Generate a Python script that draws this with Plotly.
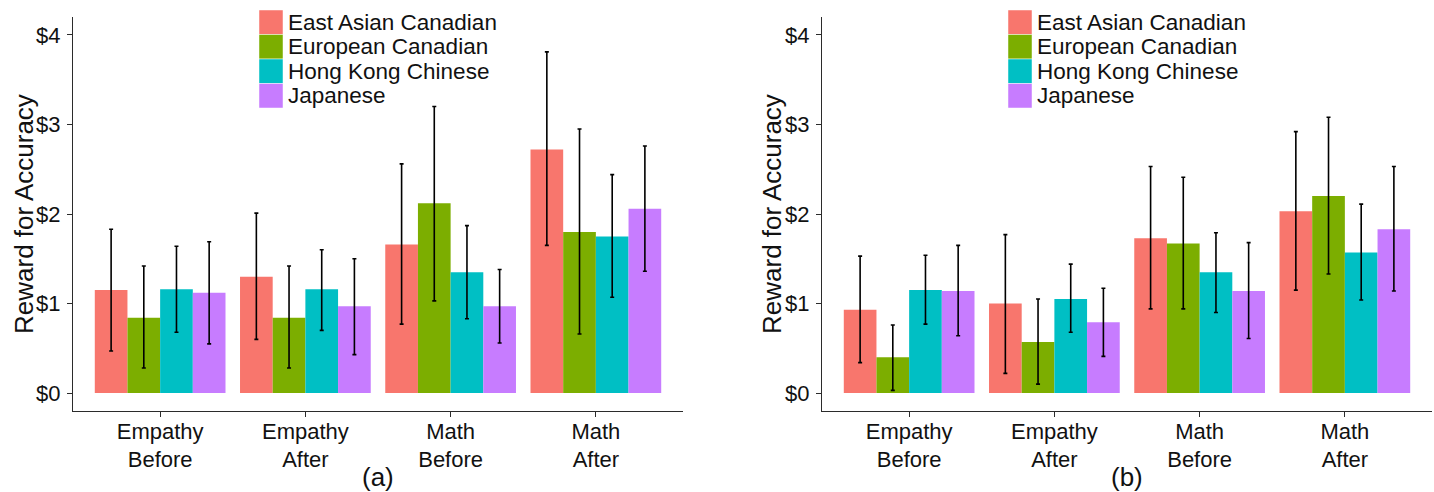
import plotly.graph_objects as go

# ---------------- data ----------------
conditions = ["Empathy Before", "Empathy After", "Math Before", "Math After"]
tick_labels = ["Empathy<br>Before", "Empathy<br>After", "Math<br>Before", "Math<br>After"]
groups = ["East Asian Canadian", "European Canadian", "Hong Kong Chinese", "Japanese"]
colors = ["#F8766D", "#7CAE00", "#00BFC4", "#C77CFF"]
y_tickvals = [0, 1, 2, 3, 4]
y_ticktext = ["$0", "$1", "$2", "$3", "$4"]
panel_labels = ["(a)", "(b)"]

# panel (a)
a_mean = {
    "East Asian Canadian": [1.15, 1.30, 1.66, 2.72],
    "European Canadian":   [0.84, 0.84, 2.12, 1.80],
    "Hong Kong Chinese":   [1.16, 1.16, 1.35, 1.75],
    "Japanese":            [1.12, 0.97, 0.97, 2.06],
}
a_upper = {
    "East Asian Canadian": [1.83, 2.01, 2.56, 3.81],
    "European Canadian":   [1.42, 1.42, 3.20, 2.95],
    "Hong Kong Chinese":   [1.64, 1.60, 1.87, 2.44],
    "Japanese":            [1.69, 1.50, 1.38, 2.76],
}
a_lower = {
    "East Asian Canadian": [0.47, 0.60, 0.77, 1.65],
    "European Canadian":   [0.28, 0.28, 1.03, 0.66],
    "Hong Kong Chinese":   [0.68, 0.70, 0.83, 1.07],
    "Japanese":            [0.55, 0.43, 0.56, 1.36],
}

# panel (b)
b_mean = {
    "East Asian Canadian": [0.93, 1.00, 1.73, 2.03],
    "European Canadian":   [0.40, 0.57, 1.67, 2.20],
    "Hong Kong Chinese":   [1.15, 1.05, 1.35, 1.57],
    "Japanese":            [1.14, 0.79, 1.14, 1.83],
}
b_upper = {
    "East Asian Canadian": [1.53, 1.77, 2.53, 2.92],
    "European Canadian":   [0.76, 1.05, 2.41, 3.08],
    "Hong Kong Chinese":   [1.54, 1.44, 1.79, 2.11],
    "Japanese":            [1.65, 1.17, 1.68, 2.53],
}
b_lower = {
    "East Asian Canadian": [0.34, 0.22, 0.94, 1.15],
    "European Canadian":   [0.03, 0.10, 0.94, 1.33],
    "Hong Kong Chinese":   [0.77, 0.68, 0.90, 1.04],
    "Japanese":            [0.64, 0.41, 0.61, 1.14],
}

# ---------------- figure ----------------
FONT = "Arial, Liberation Sans, sans-serif"
W, H = 1434, 492
ML, MR, MT, MB = 73, 2, 17, 81
PW, PH = W - ML - MR, H - MT - MB


def px_x(px):
    return (px - ML) / PW


def px_y(py):
    return (H - MB - py) / PH


fig = go.Figure()
panels = [(a_mean, a_upper, a_lower, "x", "y"), (b_mean, b_upper, b_lower, "x2", "y2")]
for mean, upper, lower, xa, ya in panels:
    for g, c in zip(groups, colors):
        m = mean[g]
        fig.add_trace(go.Bar(
            x=conditions, y=m, name=g, marker=dict(color=c, line=dict(width=0)),
            error_y=dict(type="data", symmetric=False,
                         array=[u - v for u, v in zip(upper[g], m)],
                         arrayminus=[v - l for v, l in zip(m, lower[g])],
                         color="black", thickness=1.6, width=2),
            xaxis=xa, yaxis=ya, showlegend=False, hoverinfo="skip",
        ))

axis_common = dict(showline=True, linecolor="#2b2b2b", linewidth=1.4, ticks="outside",
                   ticklen=5, tickwidth=1.2, tickcolor="#2b2b2b", showgrid=False,
                   zeroline=False, tickfont=dict(family=FONT, size=22, color="#111111"))

d1 = [0, px_x(683)]
d2 = [px_x(822), 1]
for i, (xa, ya, dom) in enumerate([("xaxis", "yaxis", d1), ("xaxis2", "yaxis2", d2)]):
    fig.layout[xa] = dict(axis_common, domain=dom, range=[-0.6, 3.6], type="category",
                          categoryorder="array", categoryarray=conditions,
                          tickvals=conditions, ticktext=tick_labels,
                          ticklabelstandoff=-5,
                          anchor="y" if i == 0 else "y2")
    fig.layout[ya] = dict(axis_common, range=[-0.2, 4.2], tickvals=y_tickvals,
                          ticktext=y_ticktext, ticklabelstandoff=2,
                          anchor="x" if i == 0 else "x2")

annotations = []
shapes = []
# y-axis titles and panel labels
for title_x, panel_cx, lab in [(24, (73 + 683) / 2, panel_labels[0]),
                               (772, (822 + 1432) / 2, panel_labels[1])]:
    annotations.append(dict(text="Reward for Accuracy", textangle=-90, xref="paper", yref="paper",
                            x=px_x(title_x), y=px_y(214), xanchor="center", yanchor="middle",
                            showarrow=False, font=dict(family=FONT, size=26, color="#111111")))
    annotations.append(dict(text=lab, xref="paper", yref="paper", x=px_x(panel_cx), y=px_y(477),
                            xanchor="center", yanchor="middle", showarrow=False,
                            font=dict(family=FONT, size=26, color="#111111")))

# legends (drawn as keys + labels)
key_h = 24.5
for key_x0 in [259, 1008]:
    for k, (g, c) in enumerate(zip(groups, colors)):
        top = 10 + k * key_h
        shapes.append(dict(type="rect", xref="paper", yref="paper",
                           x0=px_x(key_x0), x1=px_x(key_x0 + 24),
                           y0=px_y(top + key_h), y1=px_y(top),
                           fillcolor=c, line=dict(width=0.8, color="rgba(255,255,255,0.6)")))
        annotations.append(dict(text=g, xref="paper", yref="paper", x=px_x(key_x0 + 27),
                                y=px_y(top + key_h / 2), xanchor="left", yanchor="middle",
                                showarrow=False,
                                font=dict(family=FONT, size=22.5, color="#111111")))

fig.update_layout(
    width=W, height=H, barmode="group", bargap=0.1, bargroupgap=0,
    margin=dict(l=ML, r=MR, t=MT, b=MB, autoexpand=False),
    plot_bgcolor="white", paper_bgcolor="white",
    font=dict(family=FONT, color="#111111"),
    annotations=annotations, shapes=shapes, showlegend=False, hovermode=False,
)

fig.write_html("out.html", config={"displayModeBar": False},
               post_script="document.body.style.margin='0';document.body.style.overflow='hidden';")
